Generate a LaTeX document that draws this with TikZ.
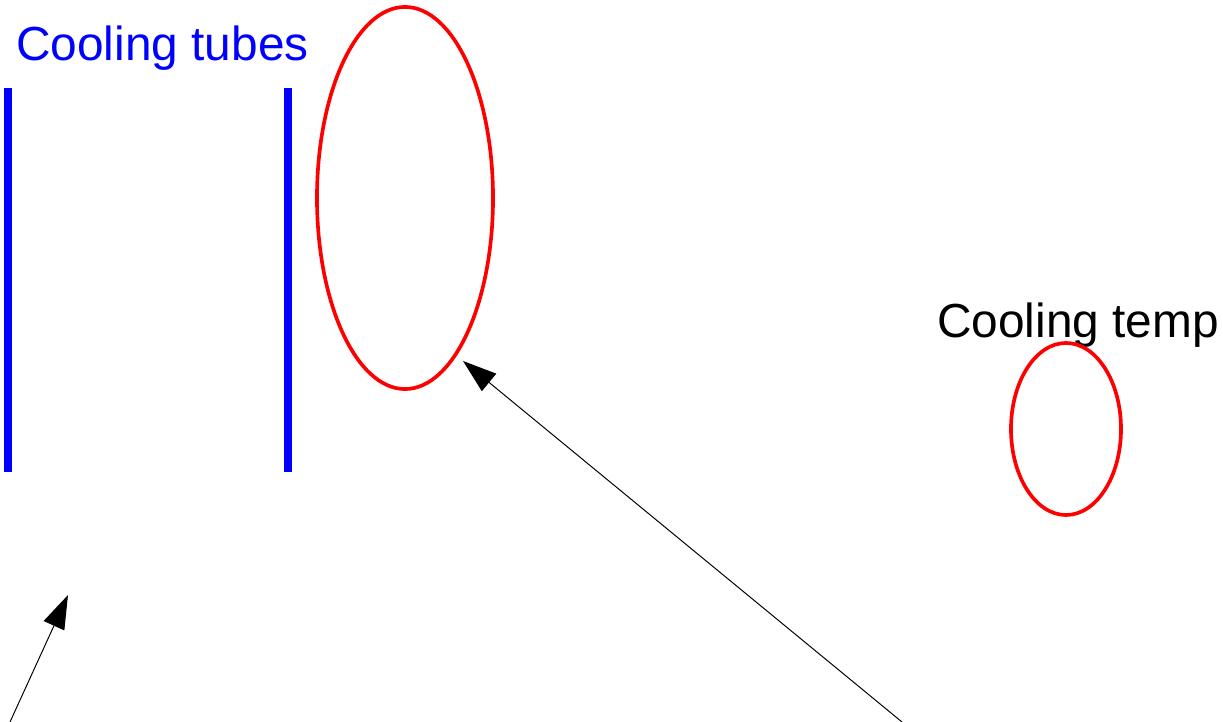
\documentclass[tikz,border=0pt]{standalone}
\usepackage{fontspec}
\setmainfont{Liberation Sans}
\usetikzlibrary{positioning, arrows.meta, shapes.geometric}
\definecolor{ctube}{RGB}{0,0,255}
\definecolor{czone}{RGB}{255,0,0}

\begin{document}
\begin{tikzpicture}[x=0.025cm, y=-0.025cm,
    titre/.style={font=\fontsize{34}{40}\selectfont, inner sep=0pt, anchor=base west},
    tube/.style={draw=ctube, line width=5pt},
    zone/.style={ellipse, draw=czone, line width=2.6pt, inner sep=0pt},
    fleche/.style={-{Triangle[length=24pt, width=16pt]}, black, line width=0.7pt}]

  \useasboundingbox (0,0) rectangle (1223,722);

  \node[titre, ctube] (tubes) at (16,61) {Cooling tubes};
  \node[titre] (temp) at (937,337) {Cooling temp};

  \coordinate (g1) at (8,88);   \coordinate (g2) at (8,472);
  \coordinate (d1) at (288,88); \coordinate (d2) at (288,472);
  \draw[tube] (g1) -- (g2);
  \draw[tube] (d1) -- (d2);

  \node[zone, minimum width=4.4cm, minimum height=9.55cm] (grand) at (405,198) {};
  \node[zone, minimum width=2.75cm, minimum height=4.3cm] (petit) at (1066,429) {};

  \coordinate (p1) at (10,722);  \coordinate (b1) at (68,595);
  \coordinate (p2) at (902,722); \coordinate (b2) at (463,361);
  \draw[fleche] (p1) -- (b1);
  \draw[fleche] (p2) -- (b2);
\end{tikzpicture}
\end{document}
